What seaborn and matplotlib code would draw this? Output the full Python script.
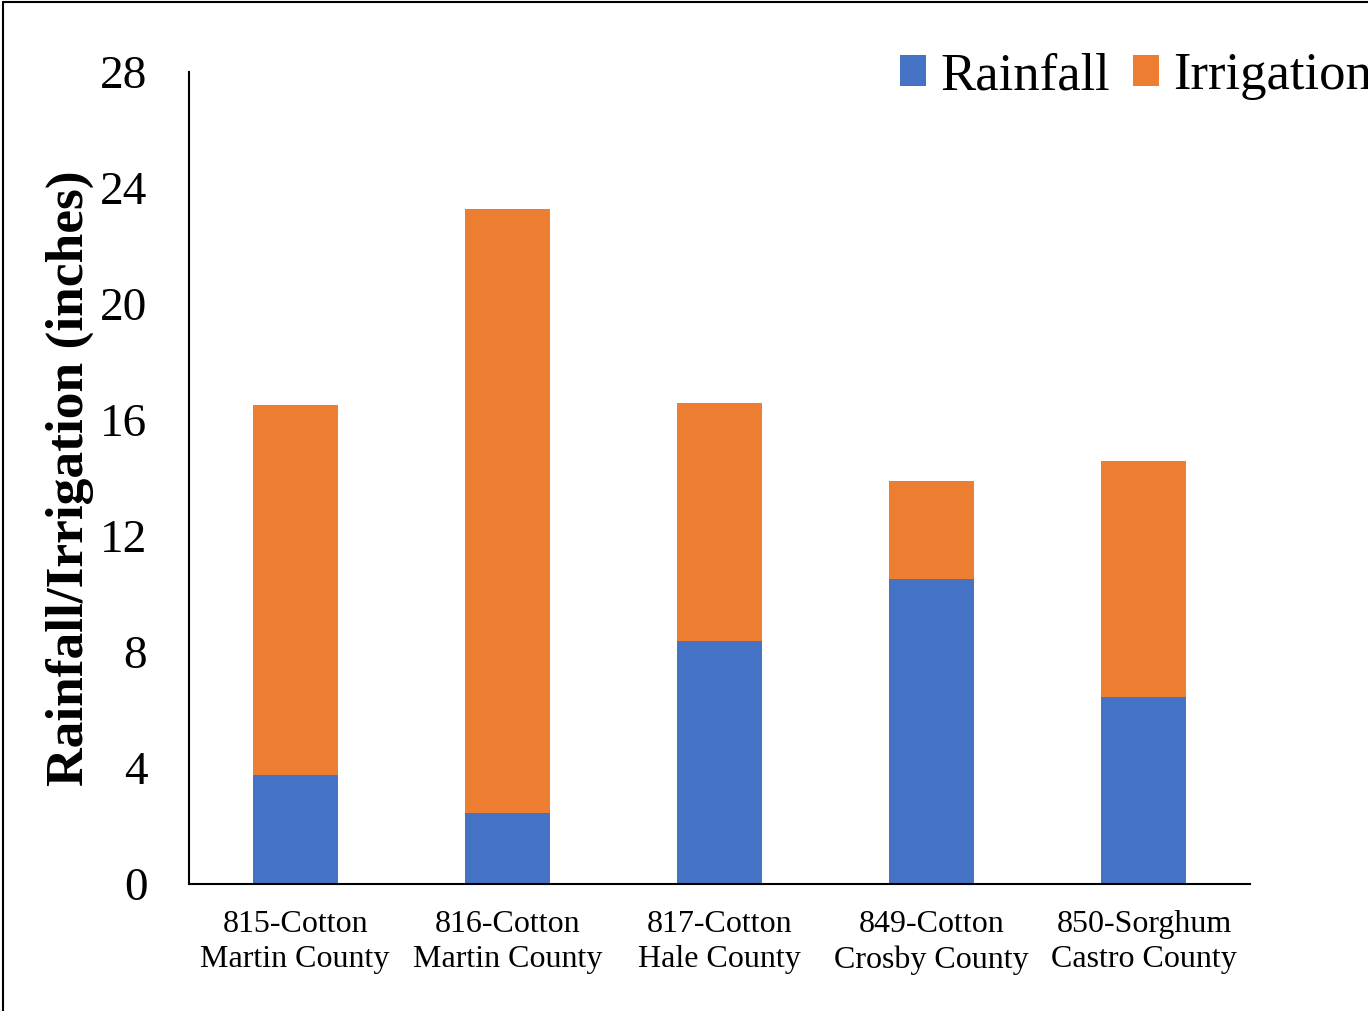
import matplotlib
matplotlib.use("Agg")
import matplotlib.pyplot as plt
import seaborn as sns
import pandas as pd
from matplotlib.lines import Line2D
from matplotlib.patches import Patch

# Season totals per site (inches)
sites = ["815-Cotton\nMartin County", "816-Cotton\nMartin County", "817-Cotton\nHale County",
         "849-Cotton\nCrosby County", "850-Sorghum\nCastro County"]
rainfall = [3.76, 2.46, 8.39, 10.52, 6.45]
irrigation = [12.76, 20.82, 8.21, 3.38, 8.14]
y_ticks = [0, 4, 8, 12, 16, 20, 24, 28]

BLUE = "#4472C4"
ORANGE = "#ED7D31"

sns.set_theme(style="white")
plt.rcParams["font.family"] = ["Liberation Serif", "DejaVu Serif"]
plt.rcParams["text.color"] = "black"
plt.rcParams["axes.labelcolor"] = "black"
plt.rcParams["xtick.color"] = "black"
plt.rcParams["ytick.color"] = "black"

df = pd.DataFrame({"site": sites, "rainfall": rainfall, "irrigation": irrigation})
df["total"] = df["rainfall"] + df["irrigation"]

fig = plt.figure(figsize=(13.68, 10.11), dpi=100)
ax = fig.add_axes([189 / 1368, 1 - 884 / 1011, (1250 - 189) / 1368, (884 - 72) / 1011])

# stacked bars: irrigation sits on top of rainfall
sns.barplot(data=df, x="site", y="total", color=ORANGE, width=0.4, saturation=1, ax=ax)
sns.barplot(data=df, x="site", y="rainfall", color=BLUE, width=0.4, saturation=1, ax=ax)
for p in ax.patches:
    p.set_edgecolor("none")

ax.set_ylim(0, 28)
ax.set_xlim(-0.5, 4.5)
ax.set_yticks(y_ticks)
ax.set_yticklabels([str(t) for t in y_ticks], fontsize=34)
ax.tick_params(axis="y", length=0, pad=30)
ax.tick_params(axis="x", length=0, pad=19, labelsize=23)
for lbl in ax.get_xticklabels():
    lbl.set_linespacing(1.26)
ax.set_xlabel("")
ax.set_ylabel("Rainfall/Irrigation (inches)", fontsize=38.5, fontweight="bold", labelpad=4)

for side in ["top", "right"]:
    ax.spines[side].set_visible(False)
for side in ["left", "bottom"]:
    ax.spines[side].set_color("black")
    ax.spines[side].set_linewidth(1.5)

handles = [Patch(facecolor=BLUE, edgecolor="none"), Patch(facecolor=ORANGE, edgecolor="none")]
fig.legend(handles, ["Rainfall", "Irrigation"], loc="upper left",
           bbox_to_anchor=(900 / 1368, 1 - 52 / 1011), ncol=2, frameon=False,
           fontsize=38, handlelength=0.49, handleheight=0.53, handletextpad=0.27,
           columnspacing=0.45, borderpad=0, borderaxespad=0)

# outer frame
fig.add_artist(Line2D([3 / 1368, 3 / 1368], [0, 1 - 2 / 1011], transform=fig.transFigure,
                      color="black", linewidth=1.5))
fig.add_artist(Line2D([3 / 1368, 1], [1 - 2 / 1011, 1 - 2 / 1011], transform=fig.transFigure,
                      color="black", linewidth=1.5))

fig.savefig("out.png", dpi=100)
